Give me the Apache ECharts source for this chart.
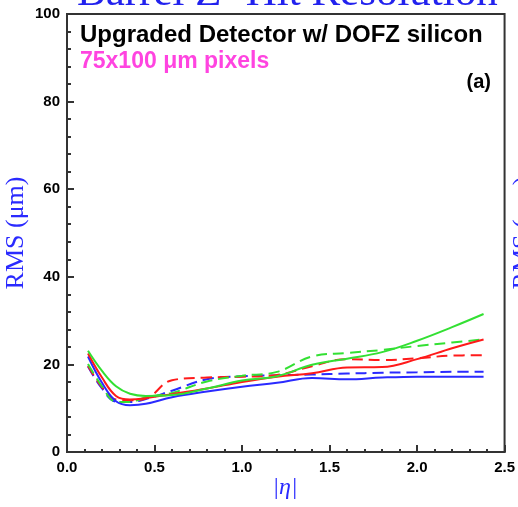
<!DOCTYPE html>
<html>
<head>
<meta charset="utf-8">
<script src="https://cdn.jsdelivr.net/npm/echarts@6/dist/echarts.min.js"></script>
<style>html,body{margin:0;padding:0;background:#fff}#c{width:518px;height:507px}</style>
</head>
<body>
<div id="c"></div>
<script>
var eta = [0.12, 0.2, 0.28, 0.36, 0.45, 0.6, 0.8, 1.0, 1.2, 1.4, 1.6, 1.8, 2.0, 2.2, 2.38];
var blueSolid  = [21.8, 15.8, 11.6, 10.7, 11.0, 12.5, 13.8, 14.9, 15.8, 16.9, 16.6, 17.0, 17.2, 17.2, 17.2];
var blueDashed = [19.5, 14.5, 11.5, 11.4, 12.1, 14.0, 16.6, 17.3, 17.5, 17.7, 17.9, 18.1, 18.2, 18.3, 18.3];
var redSolid   = [22.5, 17.0, 12.8, 12.0, 12.3, 13.2, 14.5, 16.0, 17.2, 18.0, 19.3, 19.4, 21.2, 23.7, 25.7];
var redDashed  = [19.7, 14.8, 12.0, 11.8, 12.2, 16.4, 17.0, 17.2, 17.6, 19.6, 21.2, 21.0, 21.4, 22.0, 22.1];
var greenSolid = [23.1, 18.5, 15.0, 13.3, 12.8, 13.0, 14.5, 16.3, 17.3, 19.9, 21.3, 22.8, 25.4, 28.5, 31.5];
var greenDashed= [20.1, 15.0, 11.5, 11.4, 12.5, 13.5, 16.1, 17.4, 18.3, 21.8, 22.6, 23.3, 24.2, 25.0, 25.7];

var xTicks = [0, 0.5, 1.0, 1.5, 2.0, 2.5];
var yTicks = [0, 20, 40, 60, 80, 100];

function pairs(vals) { return eta.map(function (e, i) { return [e, vals[i]]; }); }
function mk(name, vals, color, dashed) {
  return {
    name: name, type: 'line', data: pairs(vals), smooth: 0.4, symbol: 'none',
    lineStyle: { color: color, width: 2, type: dashed ? [11, 6] : 'solid' },
    itemStyle: { color: color }, silent: true
  };
}
var BLUE = '#2a2aff', RED = '#ff1a1a', GREEN = '#33e033';

var chart = echarts.init(document.getElementById('c'), null, { renderer: 'canvas' });
chart.setOption({
  animation: false,
  backgroundColor: '#fff',
  grid: { left: 67, right: 13, top: 14, bottom: 55, show: true, borderColor: '#333', borderWidth: 2 },
  xAxis: {
    type: 'value', min: 0, max: 2.5, interval: 0.5,
    axisLine: { lineStyle: { color: '#333', width: 2 } },
    axisTick: { inside: true, length: 7, lineStyle: { color: '#333', width: 2 } },
    minorTick: { show: true, splitNumber: 5, length: 3, lineStyle: { color: '#333', width: 2 } },
    splitLine: { show: false },
    axisLabel: { margin: 8, color: '#000', fontWeight: 'bold', fontSize: 15, fontFamily: 'Liberation Sans',
      formatter: function (v) { return xTicks.indexOf(v) >= 0 ? v.toFixed(1) : ''; } }
  },
  yAxis: {
    type: 'value', min: 0, max: 100, interval: 20,
    axisLine: { lineStyle: { color: '#333', width: 2 } },
    axisTick: { inside: true, length: 7, lineStyle: { color: '#333', width: 2 } },
    minorTick: { show: true, splitNumber: 5, length: 4, lineStyle: { color: '#333', width: 2 } },
    splitLine: { show: false },
    axisLabel: { margin: 7, color: '#000', fontWeight: 'bold', fontSize: 15, fontFamily: 'Liberation Sans',
      formatter: function (v) { return yTicks.indexOf(v) >= 0 ? String(v) : ''; } }
  },
  series: [
    mk('blue dashed', blueDashed, BLUE, true),
    mk('red dashed', redDashed, RED, true),
    mk('green dashed', greenDashed, GREEN, true),
    mk('blue solid', blueSolid, BLUE, false),
    mk('red solid', redSolid, RED, false),
    mk('green solid', greenSolid, GREEN, false)
  ],
  graphic: [
    { type: 'text', x: 77, y: -6, style: { text: 'Barrel Z\u2212Hit Resolution', fill: '#2222ee',
      font: '43px "Liberation Serif"', textAlign: 'left', textVerticalAlign: 'middle' }, z: 100 },
    { type: 'text', x: 80, y: 35, style: { text: 'Upgraded Detector w/ DOFZ silicon', fill: '#000',
      font: 'bold 24px "Liberation Sans"', textAlign: 'left', textVerticalAlign: 'middle' }, z: 100 },
    { type: 'text', x: 80, y: 62, style: { text: '75x100 \u03bcm pixels', fill: '#ff44e0',
      font: 'bold 23px "Liberation Sans"', textAlign: 'left', textVerticalAlign: 'middle' }, z: 100 },
    { type: 'text', x: 491, y: 82, style: { text: '(a)', fill: '#000',
      font: 'bold 20px "Liberation Sans"', textAlign: 'right', textVerticalAlign: 'middle' }, z: 100 },
    { type: 'text', x: 16, y: 233, rotation: Math.PI / 2, style: { text: 'RMS (\u03bcm)', fill: '#2a2aff',
      font: '26px "Liberation Serif"', textAlign: 'center', textVerticalAlign: 'middle' }, z: 100 },
    { type: 'text', x: 523, y: 233, rotation: Math.PI / 2, style: { text: 'RMS (\u03bcm)', fill: '#2a2aff',
      font: '26px "Liberation Serif"', textAlign: 'center', textVerticalAlign: 'middle' }, z: 100 },
    { type: 'text', x: 285, y: 488, style: { text: '|\u03b7|', fill: '#2a2aff',
      font: 'italic 24px "Liberation Serif"', textAlign: 'center', textVerticalAlign: 'middle' }, z: 100 }
  ]
});
</script>
</body>
</html>
